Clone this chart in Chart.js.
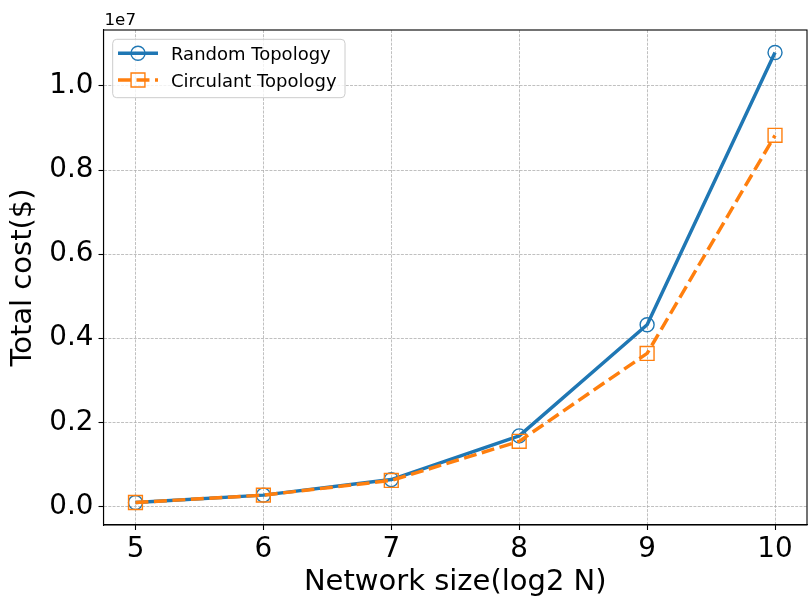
<!DOCTYPE html>
<html>
<head>
<meta charset="utf-8">
<script src="https://cdn.jsdelivr.net/npm/chart.js@4/dist/chart.umd.min.js"></script>
<style>
  html, body { margin: 0; padding: 0; background: #fff; }
  canvas { display: block; }
</style>
</head>
<body>
<canvas id="chart" width="809" height="603"></canvas>
<script>
// Network size as log2 of the node count
const networkSizes = [5, 6, 7, 8, 9, 10];
// Total cost in dollars for each topology
const randomCost    = [95000, 270000, 640000, 1680000, 4320000, 10795000];
const circulantCost = [95000, 270000, 620000, 1550000, 3640000, 8826000];

const seriesNames = ['Random Topology', 'Circulant Topology'];
const xTicks = [5, 6, 7, 8, 9, 10];
const yTicks = [0, 2000000, 4000000, 6000000, 8000000, 10000000];
const yScaleExponent = 7;
const xTitle = 'Network size(log2 N)';
const yTitle = 'Total cost($)';

const FONT = 'DejaVu Sans';
Chart.defaults.font.family = FONT;
Chart.defaults.color = '#000';

const toPoints = (xs, ys) => xs.map((x, i) => ({ x: x, y: ys[i] }));

// Closed frame around the plot area, the axis exponent and the legend box
const framePlugin = {
  id: 'frameAndLegend',
  afterDatasetsDraw(chart) {
    const { ctx, chartArea: a } = chart;
    ctx.save();
    ctx.strokeStyle = '#000';
    ctx.lineWidth = 1.1;
    ctx.strokeRect(a.left, a.top, a.right - a.left, a.bottom - a.top);

    // exponent of the y axis
    ctx.fillStyle = '#000';
    ctx.font = '16.7px "' + FONT + '"';
    ctx.textAlign = 'left';
    ctx.textBaseline = 'alphabetic';
    ctx.fillText('1e' + yScaleExponent, a.left + 1, 25);

    // legend
    const bx = 112.7, by = 39.3, bw = 232.3, bh = 58.4, r = 4;
    ctx.beginPath();
    ctx.moveTo(bx + r, by);
    ctx.lineTo(bx + bw - r, by);
    ctx.arcTo(bx + bw, by, bx + bw, by + r, r);
    ctx.lineTo(bx + bw, by + bh - r);
    ctx.arcTo(bx + bw, by + bh, bx + bw - r, by + bh, r);
    ctx.lineTo(bx + r, by + bh);
    ctx.arcTo(bx, by + bh, bx, by + bh - r, r);
    ctx.lineTo(bx, by + r);
    ctx.arcTo(bx, by, bx + r, by, r);
    ctx.closePath();
    ctx.fillStyle = 'rgba(255,255,255,0.8)';
    ctx.fill();
    ctx.strokeStyle = '#cccccc';
    ctx.lineWidth = 1;
    ctx.stroke();

    chart.data.datasets.forEach((ds, i) => {
      const cy = 53.3 + i * 26.7;
      ctx.save();
      ctx.strokeStyle = ds.borderColor;
      ctx.lineWidth = ds.borderWidth;
      ctx.setLineDash(ds.borderDash || []);
      ctx.beginPath();
      ctx.moveTo(118, cy);
      ctx.lineTo(158, cy);
      ctx.stroke();
      ctx.restore();
      ctx.save();
      ctx.fillStyle = 'rgba(0,0,0,0)';
      ctx.strokeStyle = ds.pointBorderColor;
      ctx.lineWidth = ds.pointBorderWidth;
      Chart.helpers.drawPoint(ctx, {
        pointStyle: ds.pointStyle,
        radius: ds.pointRadius,
        borderWidth: ds.pointBorderWidth,
        rotation: 0
      }, 138, cy);
      ctx.restore();
      ctx.fillStyle = '#000';
      ctx.font = '18px "' + FONT + '"';
      ctx.textAlign = 'left';
      ctx.textBaseline = 'alphabetic';
      ctx.fillText(ds.label, 171, cy + 6.7);
    });
    ctx.restore();
  }
};

const fixedTicks = (values) => (scale) => {
  scale.ticks = values.map(v => ({ value: v }));
};

new Chart(document.getElementById('chart'), {
  type: 'line',
  data: {
    datasets: [
      {
        label: seriesNames[0],
        data: toPoints(networkSizes, randomCost),
        borderColor: '#1f77b4',
        borderWidth: 3.47,
        borderJoinStyle: 'round',
        pointStyle: 'circle',
        pointRadius: 7,
        pointBorderWidth: 1.4,
        pointBorderColor: '#1f77b4',
        pointBackgroundColor: 'rgba(0,0,0,0)',
        order: 1,
        tension: 0,
        fill: false
      },
      {
        label: seriesNames[1],
        data: toPoints(networkSizes, circulantCost),
        borderColor: '#ff7f0e',
        borderWidth: 3.47,
        borderDash: [12.95, 5.55],
        borderJoinStyle: 'round',
        pointStyle: 'rect',
        pointRadius: 9.8,
        pointBorderWidth: 1.4,
        pointBorderColor: '#ff7f0e',
        pointBackgroundColor: 'rgba(0,0,0,0)',
        order: 0,
        tension: 0,
        fill: false
      }
    ]
  },
  options: {
    responsive: false,
    devicePixelRatio: 1,
    animation: false,
    events: [],
    layout: { autoPadding: false, padding: { top: 30, right: 2, left: 0, bottom: 0 } },
    plugins: {
      legend: { display: false },
      tooltip: { enabled: false }
    },
    scales: {
      x: {
        type: 'linear',
        min: 4.75,
        max: 10.25,
        afterBuildTicks: fixedTicks(xTicks),
        afterFit: (s) => { s.height = 78; s.paddingLeft = 0; s.paddingRight = 0; },
        grid: {
          color: '#b0b0b0',
          lineWidth: 0.8,
          tickColor: '#000',
          tickLength: 5,
          tickWidth: 1.1
        },
        border: { display: true, color: '#000', width: 1.1, dash: [2.96, 1.28] },
        ticks: {
          font: { size: 27.8 },
          padding: 3,
          maxRotation: 0,
          callback: (v) => String(v)
        },
        title: {
          display: true,
          text: xTitle,
          font: { size: 29 },
          padding: { top: 0, bottom: 3.6 }
        }
      },
      y: {
        type: 'linear',
        min: -440000,
        max: 11330000,
        afterBuildTicks: fixedTicks(yTicks),
        afterFit: (s) => { s.width = 103.5; s.paddingTop = 0; s.paddingBottom = 0; },
        grid: {
          color: '#b0b0b0',
          lineWidth: 0.8,
          tickColor: '#000',
          tickLength: 5,
          tickWidth: 1.1
        },
        border: { display: true, color: '#000', width: 1.1, dash: [2.96, 1.28] },
        ticks: {
          font: { size: 27.8 },
          padding: 5,
          callback: (v) => (v / Math.pow(10, yScaleExponent)).toFixed(1)
        },
        title: {
          display: true,
          text: yTitle,
          font: { size: 29 },
          padding: { top: 6.1, bottom: 0 }
        }
      }
    }
  },
  plugins: [framePlugin]
});
</script>
</body>
</html>
